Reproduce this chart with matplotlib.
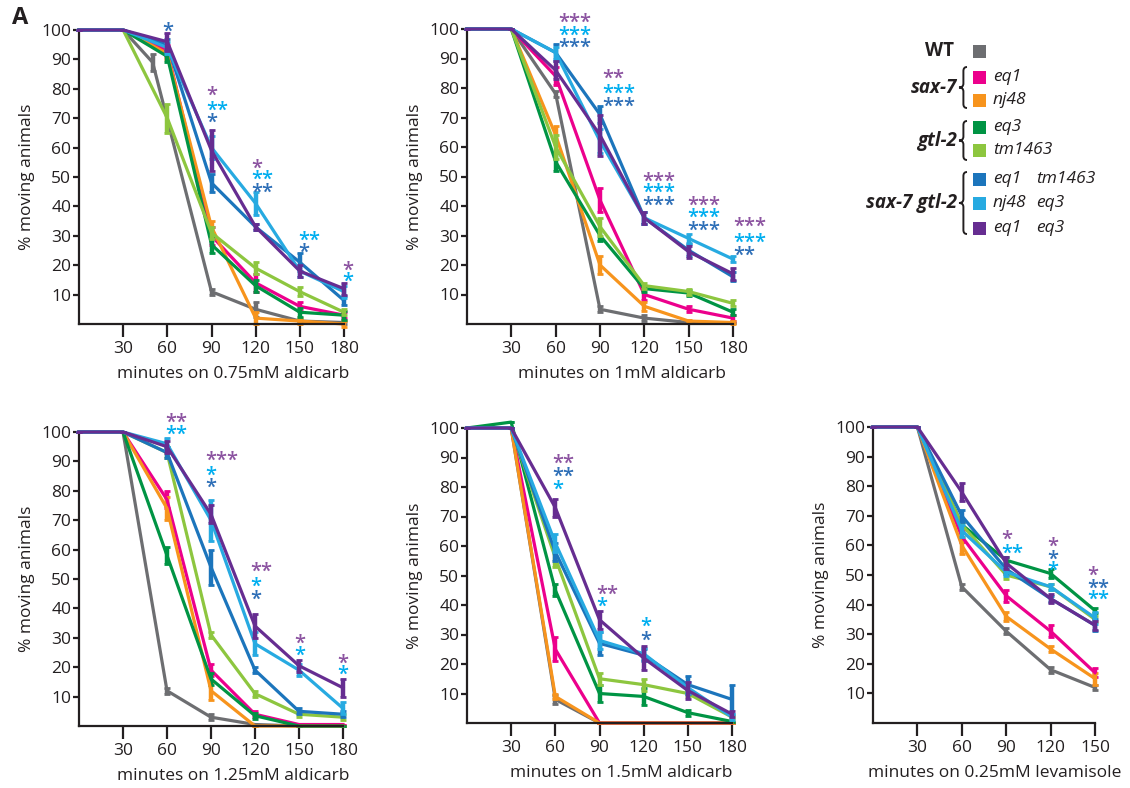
import matplotlib
matplotlib.use('Agg')
import matplotlib.pyplot as plt
from matplotlib.path import Path
from matplotlib.patches import PathPatch, Rectangle
from matplotlib.transforms import offset_copy

plt.rcParams['font.family'] = ['Open Sans', 'DejaVu Sans']

# ── Data ─────────────────────────────────────────────────────────────────────
# order: WT, sax-7(eq1), sax-7(nj48), gtl-2(eq3), gtl-2(tm1463),
#        eq1 tm1463, nj48 eq3, eq1 eq3
LEGEND_LABELS = ['', 'eq1', 'nj48', 'eq3', 'tm1463', 'eq1 tm1463', 'nj48 eq3', 'eq1 eq3']
COLORS = ['#6d6e71', '#ec008c', '#f7941d', '#009444', '#8dc63f',
          '#1c75bc', '#27aae1', '#662d91']
STAR_COLORS = {'p': '#8c54a1', 'c': '#00aeef', 'b': '#2e6fb7'}
DRAW_ORDER = [2, 1, 0, 3, 4, 5, 6, 7]

T6 = [0, 30, 60, 90, 120, 150, 180]
T5 = [0, 30, 60, 90, 120, 150]
T_WT_075 = [0, 30, 50, 90, 120, 150, 180]

# 0.75 mM aldicarb
A075_TIMES = [T_WT_075] + [T6] * 7
A075_MEAN = [
    [100, 100, 89, 11, 5, 1, 0.5],
    [100, 100, 93, 30, 14, 6, 3],
    [100, 100, 92, 33, 2, 1, 0],
    [100, 100, 91, 27, 13, 4, 3],
    [100, 100, 70, 31, 19, 11, 4],
    [100, 100, 95, 48, 33, 21, 8],
    [100, 100, 94, 60, 41, 18, 11],
    [100, 100, 96, 59, 33, 18, 12],
]
A075_SEM = [
    [0, 0, 3, 1, 2.5, 0.5, 0.5],
    [0, 0, 2, 3, 3, 1.5, 1],
    [0, 0, 2, 2, 2, 1, 1],
    [0, 0, 2, 3, 2, 1.5, 1.5],
    [0, 0, 5, 2, 2, 1.5, 1],
    [0, 0, 2, 3, 1, 3, 1.5],
    [0, 0, 2, 4, 4, 2, 2],
    [0, 0, 3, 7, 1, 2, 2],
]
A075_STARS = [
    (56.7, 102, '*', 'b'),
    (86.5, 80, '*', 'p'), (86.5, 75, '**', 'c'), (86.5, 71, '*', 'b'),
    (117, 55.5, '*', 'p'), (117, 51.6, '**', 'c'), (117, 47.3, '**', 'b'),
    (149, 30.7, '**', 'c'), (149, 26.8, '*', 'b'),
    (178.5, 20.6, '*', 'p'), (178.5, 16.9, '*', 'c'),
]

# 1 mM aldicarb
A1_MEAN = [
    [100, 100, 78, 5, 2, 0.5, 0.3],
    [100, 100, 84, 42, 10, 5, 2],
    [100, 100, 64, 20, 6, 1, 0.5],
    [100, 100, 55, 30, 12, 10.5, 4],
    [100, 100, 60, 33, 13, 11, 7],
    [100, 100, 92, 71, 36, 25, 16],
    [100, 100, 92, 62, 36, 29, 22],
    [100, 100, 86, 64, 36, 24.5, 17],
]
A1_SEM = [
    [0, 0, 1, 1, 1, 0, 0],
    [0, 0, 3, 4, 2, 1, 1],
    [0, 0, 3, 3, 1.5, 0.5, 0.5],
    [0, 0, 3, 2, 1, 1, 1],
    [0, 0, 4, 3, 1, 1, 1],
    [0, 0, 3, 3, 2, 2, 1.5],
    [0, 0, 2, 4, 2, 1.5, 1],
    [0, 0, 3, 7, 2, 2, 2],
]
A1_STARS = [
    (61.6, 104.8, '***', 'p'), (61.6, 100.1, '***', 'c'), (61.6, 96.2, '***', 'b'),
    (91.4, 85.7, '**', 'p'), (91.4, 80.4, '***', 'c'), (91.4, 76.2, '***', 'b'),
    (118.7, 50.9, '***', 'p'), (118.7, 47, '***', 'c'), (118.7, 42.5, '***', 'b'),
    (149, 42.7, '***', 'p'), (149, 38.5, '***', 'c'), (149, 34, '***', 'b'),
    (180, 35.5, '***', 'p'), (180, 30.1, '***', 'c'), (180, 25.6, '**', 'b'),
]

# 1.25 mM aldicarb
A125_MEAN = [
    [100, 100, 12, 3, 0.5, 0, 0],
    [100, 100, 77, 19, 4, 0.5, 0.5],
    [100, 100, 74, 12, 0, 0, 0],
    [100, 100, 58, 16, 3.5, 0, 0],
    [100, 100, 93, 31, 11, 4, 3],
    [100, 100, 93, 54, 19, 5, 4],
    [100, 100, 96, 70, 28, 19, 6],
    [100, 100, 95, 72, 34, 20.5, 13],
]
A125_SEM = [
    [0, 0, 1, 1, 0, 0, 0],
    [0, 0, 3, 2, 1, 0, 0],
    [0, 0, 4, 3, 0, 0, 0],
    [0, 0, 3, 2, 1, 0, 0],
    [0, 0, 2, 1, 1, 1, 1],
    [0, 0, 2, 6, 1, 1, 1],
    [0, 0, 2, 7, 4, 2, 2],
    [0, 0, 2, 3, 4, 2, 3],
]
A125_STARS = [
    (58.6, 105.6, '**', 'p'), (58.6, 101.5, '**', 'c'),
    (86.3, 92.7, '***', 'p'), (86.3, 87.6, '*', 'c'), (86.3, 83.7, '*', 'b'),
    (116.7, 55, '**', 'p'), (116.7, 49.8, '*', 'c'), (116.7, 45.3, '*', 'b'),
    (147, 30.4, '*', 'p'), (147, 26.3, '*', 'c'),
    (176, 23.8, '*', 'p'), (176, 19.9, '*', 'c'),
]

# 1.5 mM aldicarb
A15_MEAN = [
    [100, 100, 8, 0, 0, 0, 0],
    [100, 100, 25, 0, 0, 0, 0],
    [100, 100, 9, 0, 0, 0, 0],
    [100, 102, 45, 10, 9, 3.5, 0.5],
    [100, 100, 56, 15, 13, 10, 2],
    [100, 100, 58, 27, 23, 13, 8],
    [100, 100, 61, 28, 23.5, 12, 2],
    [100, 100, 73, 35, 22, 11, 3],
]
A15_SEM = [
    [0, 0, 1.5, 0, 0, 0, 0],
    [0, 0, 4, 0, 0, 0, 0],
    [0, 0, 1, 0, 0, 0, 0],
    [0, 0, 2, 3, 3, 1, 0],
    [0, 0, 3, 2, 2, 1, 0.5],
    [0, 0, 3, 4, 2, 3, 5],
    [0, 0, 3, 3, 2, 2, 1],
    [0, 0, 3, 3, 4, 3, 1],
]
A15_STARS = [
    (57.7, 90.4, '**', 'p'), (57.7, 86, '**', 'b'), (57.7, 81.5, '*', 'c'),
    (87.8, 46, '**', 'p'), (87.8, 42, '*', 'c'),
    (117.6, 35, '*', 'c'), (117.6, 30.3, '*', 'b'),
]

# 0.25 mM levamisole
L025_MEAN = [
    [100, 100, 46, 31, 18, 12],
    [100, 100, 63, 43, 31, 17],
    [100, 100, 60, 36, 25, 15],
    [100, 100, 67, 55, 50.5, 38],
    [100, 100, 67, 50, 46, 35],
    [100, 100, 70, 52, 42, 33],
    [100, 100, 65, 51, 46, 35.5],
    [100, 100, 78, 54, 42, 33],
]
L025_SEM = [
    [0, 0, 1, 1, 1, 1],
    [0, 0, 2, 2, 2, 1.5],
    [0, 0, 3, 1.5, 1, 2],
    [0, 0, 1, 1, 1.5, 1],
    [0, 0, 1, 1.5, 1, 1],
    [0, 0, 2, 1.5, 1, 2],
    [0, 0, 2, 1.5, 1, 2],
    [0, 0, 3, 2, 1.5, 1.5],
]
L025_STARS = [
    (86.7, 64.5, '*', 'p'), (86.7, 59.7, '**', 'c'),
    (118, 62.2, '*', 'p'), (118, 57.7, '*', 'b'), (118, 54.1, '*', 'c'),
    (144.6, 52.4, '*', 'p'), (144.6, 47.9, '**', 'b'), (144.6, 44.2, '**', 'c'),
]

W, H = 1130, 788


def px_rect(left, top, right, bottom):
    return [left / W, 1 - bottom / H, (right - left) / W, (bottom - top) / H]


def draw_panel(fig, rect, times, means, sems, stars, xlabel, xticks, label_x=None):
    ax = fig.add_axes(px_rect(*rect))
    xmax = xticks[-1]
    for i in DRAW_ORDER:
        eb = ax.errorbar(times[i], means[i], yerr=sems[i], color=COLORS[i],
                         lw=2.3, elinewidth=3.2, capsize=2.2, capthick=2,
                         zorder=2 + i * 0.1)
        for art in [eb.lines[0], *eb.lines[1], *eb.lines[2]]:
            art.set_clip_on(False)

    for x, y, s, c in stars:
        tr = offset_copy(ax.transData, fig=fig, x=0, y=-9, units='points')
        ax.text(x, y, s, color=STAR_COLORS[c], transform=tr, ha='left',
                va='baseline', fontsize=14.5, weight='semibold', clip_on=False)

    ax.set_xlim(0, xmax)
    ax.set_ylim(0, 100)
    ax.set_xticks(xticks)
    ax.set_yticks(range(10, 101, 10))
    for s in ['top', 'right']:
        ax.spines[s].set_visible(False)
    for s in ['left', 'bottom']:
        ax.spines[s].set_linewidth(1.6)
        ax.spines[s].set_color('#231f20')
    ax.tick_params(axis='x', length=9.5, width=1.6, pad=3, labelsize=12.5,
                   color='#231f20', labelcolor='#231f20')
    ax.tick_params(axis='y', length=4.5, width=1.6, pad=1, labelsize=12.5,
                   color='#231f20', labelcolor='#231f20')
    ax.patch.set_visible(False)

    width_px = rect[2] - rect[0]
    height_px = rect[3] - rect[1]
    if label_x is None:
        label_x = (30 + xmax) / 2 / xmax
    ax.set_xlabel(xlabel, fontsize=12.5, color='#231f20')
    ax.xaxis.set_label_coords(label_x, -42 / height_px)
    ax.set_ylabel('% moving animals', fontsize=12.5, color='#231f20')
    ax.yaxis.set_label_coords(-44 / width_px, 0.5)
    return ax


def brace(ax, x, y0, y1, w, lw=1.4):
    xm = x + w * 0.55
    ym = (y0 + y1) / 2
    r = 4
    verts = [(x + w, y0), (xm, y0), (xm, y0 + r),
             (xm, ym - r), (xm, ym), (x, ym),
             (xm, ym), (xm, ym + r),
             (xm, y1 - r), (xm, y1), (x + w, y1)]
    codes = [Path.MOVETO, Path.CURVE3, Path.CURVE3,
             Path.LINETO, Path.CURVE3, Path.CURVE3,
             Path.CURVE3, Path.CURVE3,
             Path.LINETO, Path.CURVE3, Path.CURVE3]
    ax.add_patch(PathPatch(Path(verts, codes), fill=False, lw=lw, color='#231f20'))


fig = plt.figure(figsize=(W / 100, H / 100), dpi=100)

# legend overlay in pixel coordinates
lax = fig.add_axes([0, 0, 1, 1])
lax.set_xlim(0, W)
lax.set_ylim(H, 0)
lax.axis('off')

row_y = [51, 77, 100, 127, 150, 179, 203, 228]
for i, y in enumerate(row_y):
    lax.add_patch(Rectangle((973, y - 6.5), 13, 13, color=COLORS[i], lw=0))
    parts = LEGEND_LABELS[i].split()
    for j, p in enumerate(parts):
        lax.text(993 + 43 * j, y, p, fontsize=12.5, style='italic',
                 va='center', ha='left', color='#231f20')

lax.text(954, 51, 'WT', fontsize=13.5, weight='bold', va='center', ha='right',
         color='#231f20')
for name, y0, y1 in [('sax-7', 67, 108), ('gtl-2', 121, 160), ('sax-7 gtl-2', 172, 234)]:
    lax.text(957, (y0 + y1) / 2, name, fontsize=13.5, weight='bold', style='italic',
             va='center', ha='right', color='#231f20')
    brace(lax, 959, y0, y1, 8)

fig.text(12 / W, 1 - 6 / H, 'A', fontsize=17, weight='bold', va='top', ha='left',
         color='#231f20')

draw_panel(fig, (79, 30, 344, 324), A075_TIMES, A075_MEAN, A075_SEM, A075_STARS,
           'minutes on 0.75mM aldicarb', [30, 60, 90, 120, 150, 180])
draw_panel(fig, (467, 29, 733, 324), [T6] * 8, A1_MEAN, A1_SEM, A1_STARS,
           'minutes on 1mM aldicarb', [30, 60, 90, 120, 150, 180])
draw_panel(fig, (79, 432, 343, 726), [T6] * 8, A125_MEAN, A125_SEM, A125_STARS,
           'minutes on 1.25mM aldicarb', [30, 60, 90, 120, 150, 180])
draw_panel(fig, (467, 428, 732, 723), [T6] * 8, A15_MEAN, A15_SEM, A15_STARS,
           'minutes on 1.5mM aldicarb', [30, 60, 90, 120, 150, 180])
draw_panel(fig, (873, 427, 1095, 723), [T5] * 8, L025_MEAN, L025_SEM, L025_STARS,
           'minutes on 0.25mM levamisole', [30, 60, 90, 120, 150], label_x=0.55)

fig.savefig('out.png', dpi=100)
